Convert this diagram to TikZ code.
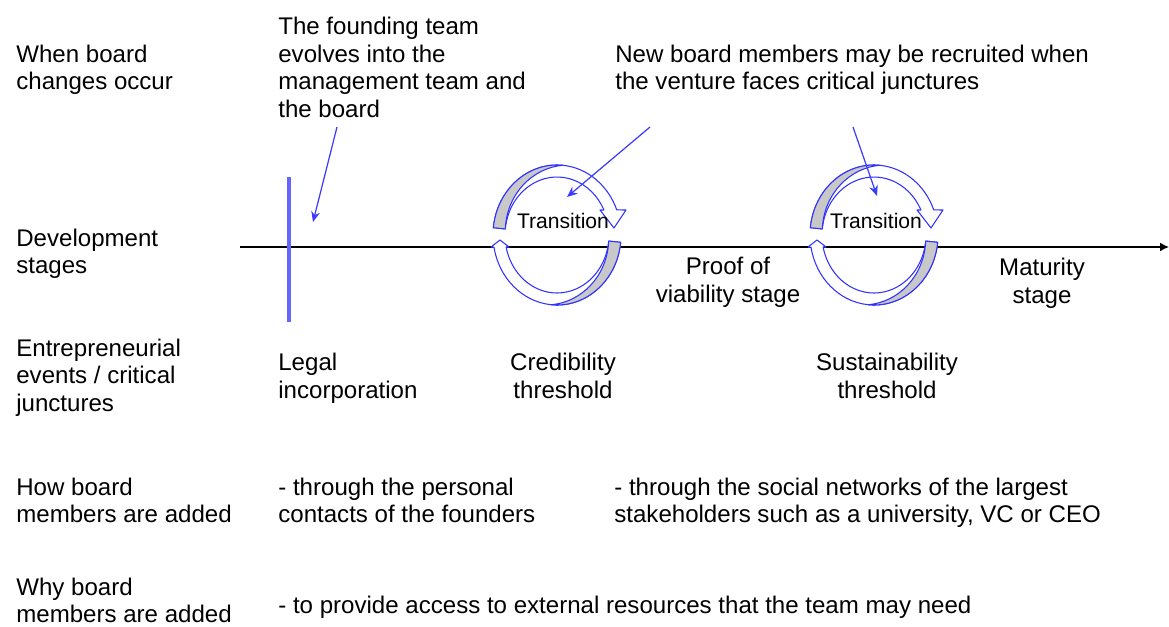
\documentclass[tikz,border=0pt]{standalone}
\usepackage{fontspec}
\setmainfont{Liberation Sans}
\usetikzlibrary{arrows.meta}
\definecolor{RingBlue}{HTML}{3030FF}
\definecolor{RingGray}{HTML}{C8C8C8}
\definecolor{BarBlue}{HTML}{6464FF}
\definecolor{PointBlue}{HTML}{3C3CFF}
\newcommand{\boardfont}{\fontsize{13.7}{15.6}\selectfont}
\tikzset{
  % multi-line nodes sit on the baseline of their last line
  rowlabel/.style={
    align=left,
    anchor=base west,
    inner sep=0pt,
    font=\boardfont
  },
  stagelabel/.style={
    align=center,
    anchor=base,
    inner sep=0pt,
    font=\boardfont
  },
  ringband/.style={draw=RingBlue,fill=white,line width=0.6pt,line join=round},
  ringshade/.style={draw=RingBlue,fill=RingGray,line width=0.6pt,line join=round},
  pointer/.style={-{Stealth[length=6pt,width=5pt]},draw=PointBlue,line width=0.7pt},
  timeline/.style={-{Latex[length=5pt,width=5pt]},line width=0.9pt},
  % two half-turn arrows around a threshold
  transition ring/.pic={
    \begin{scope}[yscale=-1]
      % upper half, over the top to the right
      \path[ringband] (174:64 and 70)
        arc[start angle=174,end angle=21,x radius=64,y radius=70]
        -- (69,25) -- (57,7) -- (43,25)
        -- (25.5:52 and 58)
        arc[start angle=25.5,end angle=174,x radius=52,y radius=58] -- cycle;
      \path[ringshade] (174:64 and 70)
        arc[start angle=174,end angle=85,x radius=64,y radius=70]
        .. controls (-24,67) and (-50,42) .. (174:52 and 58) -- cycle;
      % lower half, under the bottom back to the left
      \begin{scope}[rotate=180]
        \path[ringband] (174:64 and 70)
          arc[start angle=174,end angle=10,x radius=64,y radius=70]
          -- (66,12) -- (57,5) -- (48,12)
          -- (11.9:52 and 58)
          arc[start angle=11.9,end angle=174,x radius=52,y radius=58] -- cycle;
        \path[ringshade] (174:64 and 70)
          arc[start angle=174,end angle=85,x radius=64,y radius=70]
          .. controls (-24,67) and (-50,42) .. (174:52 and 58) -- cycle;
      \end{scope}
    \end{scope}
  }
}

\begin{document}
\begin{tikzpicture}[x=0.02cm,y=-0.02cm]
  \useasboundingbox (0,0) rectangle (1169,626);

  % row headings
  \node[rowlabel] (when) at (16,89.5) {When board\\changes occur};
  \node[rowlabel] (dev) at (16,273.5) {Development\\stages};
  \node[rowlabel] (events) at (16,411) {Entrepreneurial\\events / critical\\junctures};
  \node[rowlabel] (how) at (16,522.5) {How board\\members are added};
  \node[rowlabel] (why) at (16,622.5) {Why board\\members are added};

  % time line and the thresholds on it
  \coordinate (start) at (240,247);
  \coordinate (end) at (1169,247);
  \draw[timeline] (start) -- (end);
  \draw[BarBlue,line width=2.4pt] (289,177) -- (289,322);
  \pic (credring) at (557,235) {transition ring};
  \pic (sustring) at (874,235) {transition ring};
  \node[stagelabel,font=\fontsize{12}{14}\selectfont] (credtrans) at (563,228) {Transition};
  \node[stagelabel,font=\fontsize{12}{14}\selectfont] (susttrans) at (876,228) {Transition};

  % board changes
  \node[rowlabel] (found) at (278,117) {The founding team\\evolves into the\\management team and\\the board};
  \node[rowlabel] (recruit) at (615,89.5) {New board members may be recruited when\\the venture faces critical junctures};
  \coordinate (found-out) at (337,127);
  \coordinate (found-in) at (313,222);
  \coordinate (recruit-out1) at (650,127);
  \coordinate (recruit-in1) at (567,197);
  \coordinate (recruit-out2) at (853,127);
  \coordinate (recruit-in2) at (877,196);
  \draw[pointer] (found-out) -- (found-in);
  \draw[pointer] (recruit-out1) -- (recruit-in1);
  \draw[pointer] (recruit-out2) -- (recruit-in2);

  % stages
  \node[stagelabel] (proof) at (728,302) {Proof of\\viability stage};
  \node[stagelabel] (mature) at (1042,303) {Maturity\\stage};

  % events
  \node[rowlabel] (legal) at (278,398) {Legal\\incorporation};
  \node[stagelabel] (cred) at (563,398) {Credibility\\threshold};
  \node[stagelabel] (sust) at (887,398) {Sustainability\\threshold};

  % how and why
  \node[rowlabel] (howfound) at (278,522.5) {- through the personal\\contacts of the founders};
  \node[rowlabel] (hownet) at (614,522.5) {- through the social networks of the largest\\stakeholders such as a university, VC or CEO};
  \node[rowlabel] (whyres) at (278,613) {- to provide access to external resources that the team may need};
\end{tikzpicture}
\end{document}
